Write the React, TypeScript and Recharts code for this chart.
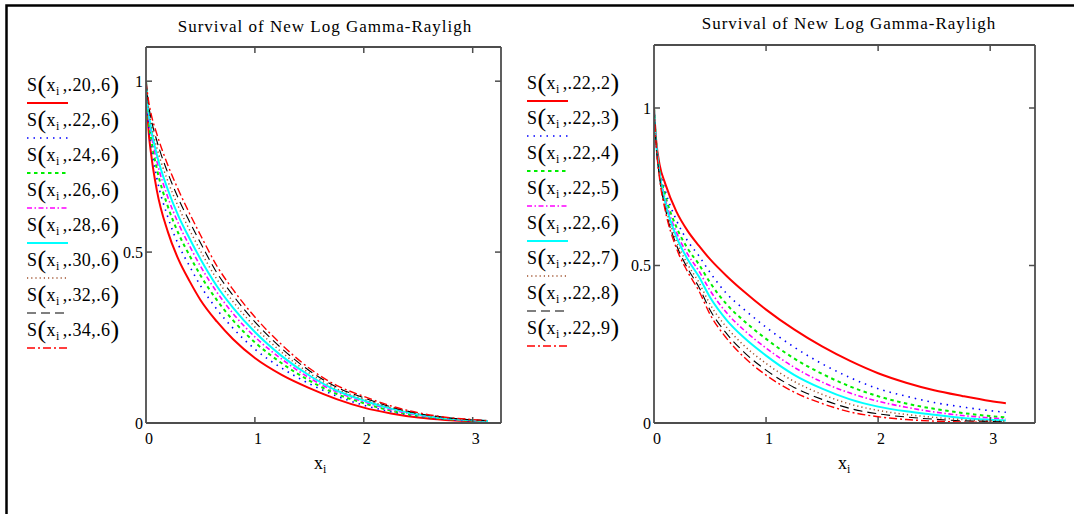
import React from 'react';
import { LineChart, Line, XAxis, YAxis } from 'recharts';

// sample points on x (shared by both panels)
const xs = [0, 0.02, 0.05, 0.1, 0.2, 0.3, 0.4, 0.5, 0.65, 0.8, 1, 1.25, 1.5, 1.75, 2, 2.25, 2.5, 2.75, 3, 3.14];

// left panel: S(x_i, a, .6)
const leftLabels = ['.20,.6', '.22,.6', '.24,.6', '.26,.6', '.28,.6', '.30,.6', '.32,.6', '.34,.6'];
const left20 = [1, 0.87, 0.78, 0.68, 0.56, 0.477, 0.415, 0.36, 0.297, 0.245, 0.19, 0.14, 0.102, 0.07, 0.045, 0.028, 0.016, 0.009, 0.005, 0.004];
const left22 = [1, 0.888, 0.806, 0.716, 0.603, 0.52, 0.459, 0.402, 0.333, 0.277, 0.216, 0.16, 0.115, 0.079, 0.052, 0.033, 0.019, 0.011, 0.006, 0.005];
const left24 = [1, 0.9, 0.826, 0.743, 0.634, 0.553, 0.49, 0.432, 0.36, 0.3, 0.236, 0.174, 0.124, 0.085, 0.058, 0.036, 0.021, 0.012, 0.007, 0.005];
const left26 = [1, 0.912, 0.842, 0.766, 0.661, 0.582, 0.518, 0.459, 0.383, 0.32, 0.252, 0.186, 0.132, 0.091, 0.062, 0.039, 0.023, 0.013, 0.008, 0.006];
const left28 = [1, 0.92, 0.856, 0.784, 0.683, 0.604, 0.54, 0.48, 0.401, 0.337, 0.266, 0.195, 0.139, 0.095, 0.066, 0.042, 0.025, 0.014, 0.008, 0.006];
const left30 = [1, 0.931, 0.871, 0.805, 0.708, 0.631, 0.565, 0.504, 0.421, 0.355, 0.281, 0.206, 0.146, 0.1, 0.07, 0.045, 0.027, 0.015, 0.009, 0.006];
const left32 = [1, 0.94, 0.886, 0.825, 0.732, 0.655, 0.589, 0.527, 0.44, 0.373, 0.296, 0.217, 0.153, 0.105, 0.074, 0.047, 0.028, 0.016, 0.009, 0.007];
const left34 = [1, 0.95, 0.9, 0.845, 0.755, 0.68, 0.613, 0.55, 0.46, 0.39, 0.31, 0.228, 0.16, 0.11, 0.078, 0.05, 0.03, 0.017, 0.01, 0.007];

// right panel: S(x_i, .22, b)
const rightLabels = ['.22,.2', '.22,.3', '.22,.4', '.22,.5', '.22,.6', '.22,.7', '.22,.8', '.22,.9'];
const right2 = [1, 0.895, 0.82, 0.76, 0.671, 0.61, 0.563, 0.52, 0.466, 0.418, 0.36, 0.297, 0.243, 0.197, 0.158, 0.128, 0.104, 0.086, 0.07, 0.063];
const right3 = [1, 0.891, 0.808, 0.738, 0.644, 0.578, 0.531, 0.478, 0.41, 0.362, 0.304, 0.241, 0.188, 0.144, 0.109, 0.085, 0.065, 0.051, 0.039, 0.034];
const right4 = [1, 0.888, 0.8, 0.723, 0.622, 0.554, 0.504, 0.446, 0.376, 0.325, 0.267, 0.205, 0.156, 0.116, 0.085, 0.062, 0.045, 0.032, 0.022, 0.018];
const right5 = [1, 0.886, 0.794, 0.711, 0.605, 0.536, 0.483, 0.421, 0.349, 0.296, 0.238, 0.177, 0.13, 0.095, 0.069, 0.05, 0.035, 0.024, 0.016, 0.013];
const right6 = [1, 0.885, 0.789, 0.701, 0.591, 0.52, 0.465, 0.399, 0.326, 0.272, 0.214, 0.153, 0.109, 0.075, 0.052, 0.037, 0.026, 0.016, 0.01, 0.008];
const right7 = [1, 0.883, 0.783, 0.69, 0.577, 0.504, 0.447, 0.377, 0.303, 0.247, 0.189, 0.132, 0.091, 0.06, 0.04, 0.027, 0.018, 0.011, 0.007, 0.005];
const right8 = [1, 0.881, 0.779, 0.682, 0.565, 0.491, 0.432, 0.359, 0.283, 0.226, 0.168, 0.113, 0.075, 0.046, 0.029, 0.019, 0.012, 0.007, 0.005, 0.003];
const right9 = [1, 0.88, 0.775, 0.675, 0.555, 0.48, 0.42, 0.345, 0.268, 0.21, 0.152, 0.098, 0.062, 0.035, 0.02, 0.011, 0.006, 0.003, 0.002, 0.001];

const xTicks = [0, 1, 2, 3];
const yTicks = [0, 0.5, 1];

const FONT = "'Liberation Serif', 'Times New Roman', serif";
const AXIS = '#4d4d4d';

// mathcad trace styles, same order in both panels
const traces = [
  { color: '#ff0000', dash: undefined, width: 2 },
  { color: '#0000ff', dash: '1.5 5', width: 1.6 },
  { color: '#00ee00', dash: '3.5 3.5', width: 2 },
  { color: '#ff00ff', dash: '5 2.5 1.5 2.5', width: 1.6 },
  { color: '#00ffff', dash: undefined, width: 2 },
  { color: '#a0522d', dash: '1.2 3', width: 1.5 },
  { color: '#000000', dash: '9 5', width: 1.1 },
  { color: '#ff0000', dash: '8 3 2 3', width: 1.4 },
];

function makeRows(series: number[][]) {
  return xs.map((x, i) => {
    const r: any = { x };
    series.forEach((s, k) => (r['s' + k] = s[i]));
    return r;
  });
}

const BottomTick = (p: any) => (
  <g>
    {p.payload.value !== 0 && <line x1={p.x} y1={p.y} x2={p.x} y2={p.y - 6} stroke={AXIS} strokeWidth={1.5} />}
    <text x={p.x + 3} y={p.y + 21} textAnchor="middle" fontFamily={FONT} fontSize={16} fill="#000">
      {p.payload.value}
    </text>
  </g>
);
const TopTick = (p: any) =>
  p.payload.value !== 0 ? <line x1={p.x} y1={p.y} x2={p.x} y2={p.y + 6} stroke={AXIS} strokeWidth={1.5} /> : <g />;
const LeftTick = (p: any) => (
  <g>
    {p.payload.value !== 0 && <line x1={p.x} y1={p.y} x2={p.x + 6} y2={p.y} stroke={AXIS} strokeWidth={1.5} />}
    <text x={p.x - 3} y={p.y + 5.5} textAnchor="end" fontFamily={FONT} fontSize={16} fill="#000">
      {p.payload.value}
    </text>
  </g>
);
const RightTick = (p: any) =>
  p.payload.value !== 0 ? <line x1={p.x} y1={p.y} x2={p.x - 6} y2={p.y} stroke={AXIS} strokeWidth={1.5} /> : <g />;

function Panel({ series, left, width, margin, xMax, yMax }: any) {
  const rows = makeRows(series);
  const axisLine = { stroke: AXIS, strokeWidth: 1.8 };
  return (
    <div style={{ position: 'absolute', left, top: 0 }}>
      <LineChart width={width} height={514} data={rows} margin={margin}>
        <XAxis dataKey="x" type="number" domain={[0, xMax]} ticks={xTicks} height={1} tickSize={0} tickMargin={0}
          tickLine={false} axisLine={axisLine} tick={BottomTick} allowDataOverflow interval={0} />
        <XAxis xAxisId="top" orientation="top" dataKey="x" type="number" domain={[0, xMax]} ticks={xTicks} height={1}
          tickSize={0} tickMargin={0} tickLine={false} axisLine={axisLine} tick={TopTick} allowDataOverflow interval={0} />
        <YAxis type="number" domain={[0, yMax]} ticks={yTicks} width={1} tickSize={0} tickMargin={0}
          tickLine={false} axisLine={axisLine} tick={LeftTick} allowDataOverflow interval={0} />
        <YAxis yAxisId="right" orientation="right" type="number" domain={[0, yMax]} ticks={yTicks} width={1}
          tickSize={0} tickMargin={0} tickLine={false} axisLine={axisLine} tick={RightTick} allowDataOverflow interval={0} />
        {traces.map((t, k) => (
          <Line key={k} dataKey={'s' + k} type="monotone" dot={false} isAnimationActive={false}
            stroke={t.color} strokeWidth={t.width} strokeDasharray={t.dash} />
        ))}
      </LineChart>
    </div>
  );
}

function LegendTexts({ x, y0, labels }: any) {
  return (
    <g>
      {labels.map((lab: string, k: number) => {
        const t = traces[k];
        const cy = y0 + 35 * k;
        return (
          <g key={k}>
            <text x={x} y={cy + 6} fontFamily={FONT} fontSize={18} fill="#000" letterSpacing={0.4}>
              S<tspan fontSize={26} dy={2}>(</tspan>
              <tspan dy={-2}>x</tspan>
              <tspan fontSize={12} dy={4}>i</tspan>
              <tspan dy={-4} dx={3}>,{lab}</tspan>
              <tspan fontSize={26} dy={2}>)</tspan>
            </text>
            <line x1={x} x2={x + 41} y1={cy + 18} y2={cy + 18} stroke={t.color} strokeWidth={t.width}
              strokeDasharray={t.dash} />
          </g>
        );
      })}
    </g>
  );
}

export default function App() {
  return (
    <div style={{ position: 'absolute', left: 0, top: 0, width: 1074, height: 514, background: '#fff' }}>
      <Panel series={[left20, left22, left24, left26, left28, left30, left32, left34]} left={0} width={540}
        margin={{ top: 46, left: 145, right: 38, bottom: 90 }} xMax={3.26} yMax={1.1} />
      <Panel series={[right2, right3, right4, right5, right6, right7, right8, right9]} left={540} width={534}
        margin={{ top: 44, left: 113, right: 38, bottom: 90 }} xMax={3.4} yMax={1.2} />
      <svg width={1074} height={514} style={{ position: 'absolute', left: 0, top: 0, pointerEvents: 'none' }}>
        <path d="M6.5 514 V5.5 H1074" stroke="#000" strokeWidth={2.5} fill="none" />
        <text x={325} y={32} textAnchor="middle" fontFamily={FONT} fontSize={17} letterSpacing={1} fill="#000">
          Survival of New Log Gamma-Rayligh
        </text>
        <text x={849} y={29} textAnchor="middle" fontFamily={FONT} fontSize={17} letterSpacing={1} fill="#000">
          Survival of New Log Gamma-Rayligh
        </text>
        <text x={314} y={469} fontFamily={FONT} fontSize={18} fill="#000">
          x<tspan fontSize={12} dy={4}>i</tspan>
        </text>
        <text x={838} y={469} fontFamily={FONT} fontSize={18} fill="#000">
          x<tspan fontSize={12} dy={4}>i</tspan>
        </text>
        <LegendTexts x={27} y0={85} labels={leftLabels} />
        <LegendTexts x={527} y0={83} labels={rightLabels} />
      </svg>
    </div>
  );
}
